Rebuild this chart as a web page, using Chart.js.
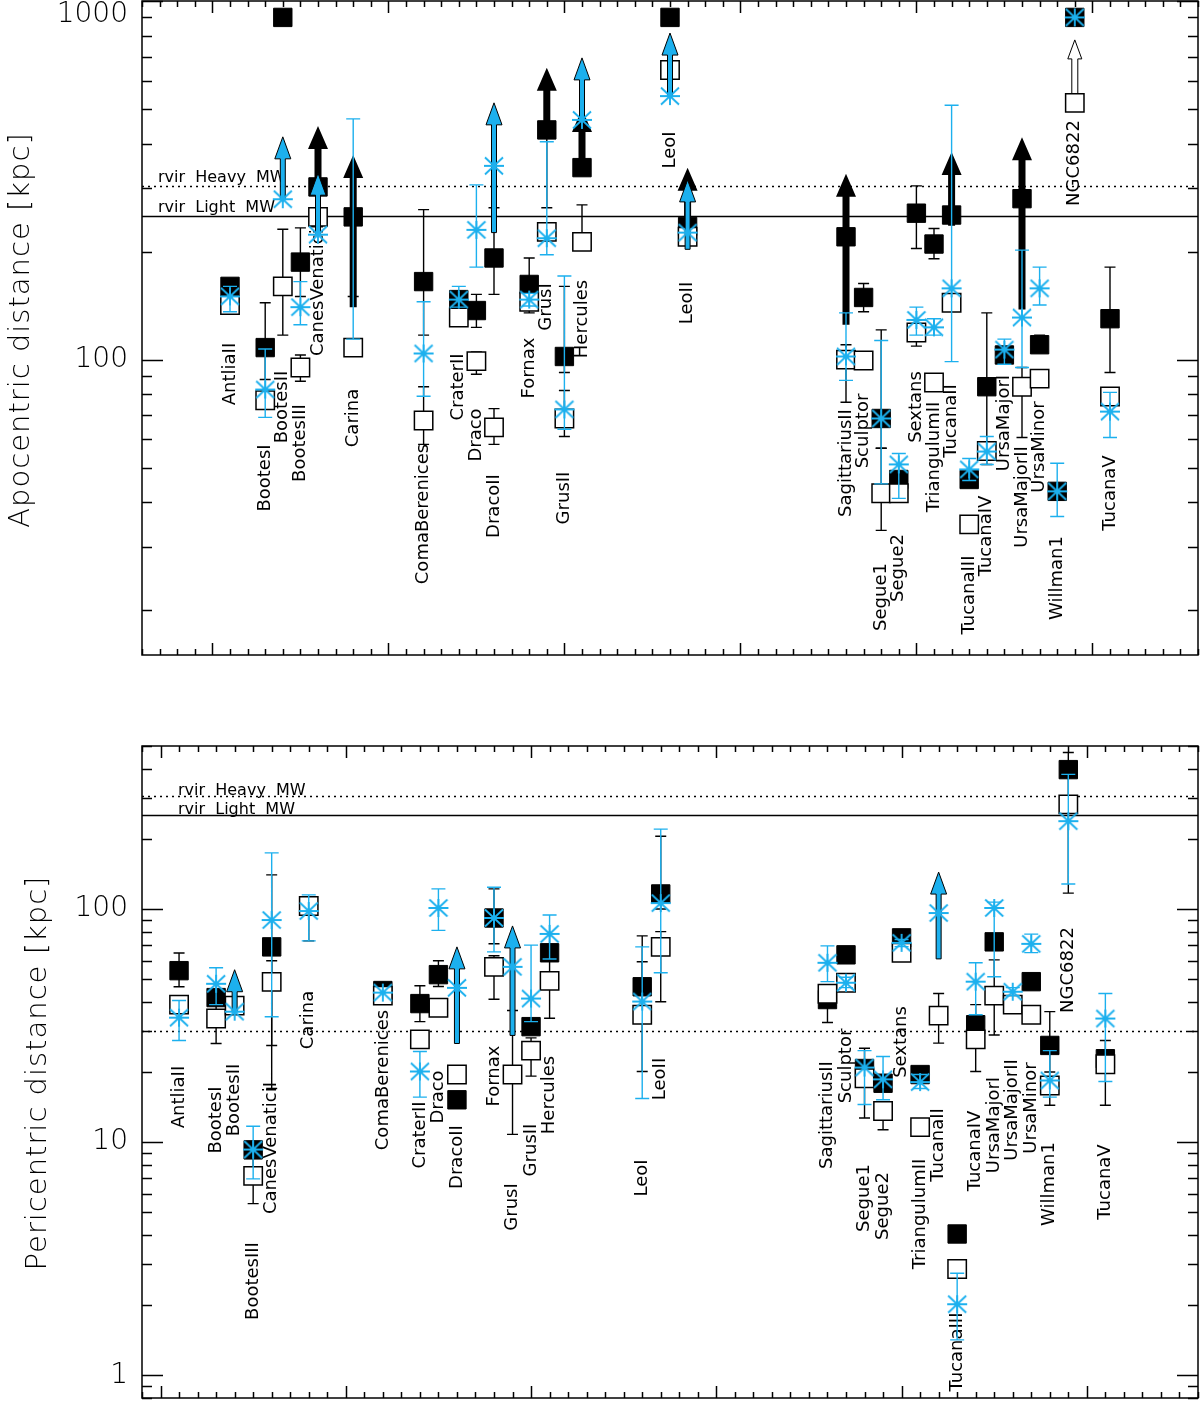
<!DOCTYPE html>
<html>
<head>
<meta charset="utf-8">
<script src="https://cdn.jsdelivr.net/npm/chart.js@4.4.1/dist/chart.umd.min.js"></script>
<style>
  html, body { margin: 0; padding: 0; background: #fff; }
  #wrap { position: relative; width: 1200px; height: 1402px; }
  canvas { position: absolute; left: 0; }
  #apo { top: 0; width: 1200px; height: 700px; }
  #peri { top: 700px; width: 1200px; height: 702px; }
</style>
</head>
<body>
<div id="wrap">
  <canvas id="apo" width="1200" height="700"></canvas>
  <canvas id="peri" width="1200" height="702"></canvas>
</div>
<script>
const _ = null;
const CYAN = '#1cb0ee';
const FONT = "'DejaVu Sans', sans-serif";

const galaxies = ['AntliaII','BootesI','BootesII','BootesIII','CanesVenaticiI','Carina','ComaBerenices',
  'CraterII','Draco','DracoII','Fornax','GrusI','GrusII','Hercules','LeoI','LeoII','SagittariusII',
  'Sculptor','Segue1','Segue2','Sextans','TriangulumII','TucanaII','TucanaIII','TucanaIV','UrsaMajorI',
  'UrsaMajorII','UrsaMinor','Willman1','NGC6822','TucanaV'];
const slot = [1,3,4,5,6,8,12,14,15,16,18,19,20,21,26,27,36,37,38,39,40,41,42,43,44,45,46,47,48,49,51];

// apocentric distance [kpc]
const apoFilled   = [160,108,900,187,303,250,165,147,137,192,162,437,102,343,900,235,220,149,68.5,46.3,256,210,253,46.3,84,103,281,110,42.9,900,130];
const apoFilledLo = [152,88,_,150,_,150,117,_,123,152,135,265,92,_,_,_,_,136,56.6,_,204,191,_,_,51,_,_,105,_,_,92];
const apoFilledHi = [168,144,_,233,_,_,262,_,152,265,192,_,160,_,_,_,_,163,121,_,305,232,_,_,135,_,_,117,_,_,181];
const apoFilledUp = [['CanesVenaticiI',303,448],['Carina',140,372],['GrusI',437,651],['Hercules',343,500],
  ['LeoII',235,343],['SagittariusII',125,330],['TucanaII',236,379],['UrsaMajorII',138,417]];

const apoOpen   = [142,77,160,95,250,108,67.6,131,99,64.7,145,227,68.5,213,642,220,100,99.4,42.4,42.4,119,86.3,144,34.7,55.6,_,84,88.5,_,520,78.9];
const apoOpenLo = [_,_,117,87,_,_,58,_,91,58,_,_,61,202,_,_,76,97,33.4,41,109,84,_,33.5,_,_,60.6,84,_,_,_];
const apoOpenHi = [_,_,231,103,_,_,84,_,105,73,_,_,82,270,_,_,110,102,56.6,43.5,129,89,_,36,_,_,95,93,_,_,_];
const apoOpenUp = [['NGC6822',520,779]];

const apoStar   = [150,82.5,280,140,223,_,104,147,230,347,147,218,72.6,466,543,226,102,_,68.5,51,129,123,158,49.4,55.4,106.6,131,158,42.9,900,71.6];
const apoStarLo = [136,69,_,125,_,114,79,140,181,_,141,196,63.9,_,_,_,87.5,_,45,41,117,117,98.7,46,51,97,95,142,36.5,_,60.6];
const apoStarHi = [160,107,_,165,_,469,145,160,307,_,153,405,171,_,_,_,135,_,113,54.7,140,130,512,53,61,114,202,181,51.4,_,81];
const apoStarUp = [['BootesII',280,418],['CanesVenaticiI',223,331],['DracoII',226,520],['Hercules',466,694],
  ['LeoI',543,814],['LeoII',203,317]];

// pericentric distance [kpc]
const periFilled   = [54.4,41.7,_,9.27,68.8,_,44.7,39.3,52.3,15.2,91.5,_,31.3,64.9,46.4,116,40.9,63.6,20.7,17.9,75.2,19.5,_,4.04,31.9,72.3,_,48.8,26.0,396,22.8];
const periFilledLo = [46.4,_,_,_,26,_,_,32.9,46.5,_,71,_,_,_,38,100,32.6,_,12.7,_,_,_,_,_,20.1,_,_,_,20,117,14.4];
const periFilledHi = [64.8,_,_,_,140,_,_,46.9,60,_,122,_,_,_,76.7,205,47,_,25.3,_,_,_,_,_,38.9,_,_,_,36.3,469,27.3];
const periFilledUp = [];

const periOpen   = [38.9,33.9,38.5,7.17,48.7,103,42.5,27.6,37.7,19.5,56.5,19.5,24.7,49.2,35.2,68.8,43.3,48.3,18.8,13.6,64.9,11.6,34.9,2.86,27.6,42.5,38.9,35.2,17.5,281,21.6];
const periOpenLo = [_,26.5,_,5.45,17,73,_,_,35.5,18.5,41,10.8,19.2,34,20.1,40,_,_,_,11.3,_,11,26.6,2.8,_,28.8,36,33.5,14.4,_,_];
const periOpenHi = [_,41.7,_,9,60,103,_,_,40.5,20.5,63,36.7,28,60.5,59.4,80,_,_,_,14.7,_,12.2,43.4,2.95,_,60.5,42,37,18,_,_];
const periOpenUp = [];

const periStar   = [34.2,47.8,36.3,9.3,89.7,98,43.8,20.1,101,45.9,91.5,56.5,41.3,78.2,40.1,106,58.8,48.3,20.9,18.6,71.6,18.1,96.1,2.02,48.8,101,44.2,70.9,18.4,238,33.9];
const periStarLo = [27.3,38.9,_,6.96,34.5,73,_,15.6,81,_,65.5,_,32.9,61,15.4,53.3,48.8,46,14.5,15.2,69,17,_,1.42,35.2,51.2,42.5,65,15.6,128,18.2];
const periStarHi = [40.5,56,_,11.7,174,115,_,24.5,122,_,124,_,70,94.3,68.8,220,69.5,51,24.7,23.3,74,19.5,_,2.74,58.8,107,46,78,24.7,378,43.4];
const periStarUp = [['BootesII',36.3,54.9],['DracoII',26.5,68.8],['GrusI',28.7,84.6],['TucanaII',61.1,144]];

// reference radii [kpc]
const rvirLight = 252;
const rvirHeavy = 305;
const periRef = 30;

const apoTickLabels = [100, 1000];
const periTickLabels = [1, 10, 100];

// label placement (page y of the centre of each rotated name)
const apoLabelY  = [374,478,407,443,290,418,514,387,435,506,368,307,498,319,150,303,463,431,597,568,407,457,421,595,536,423,497,447,578,163,493];
const periLabelY = [1097,1120,1100,1281,1148,1020,1080,1135,1097,1157,1076,1207,1150,1095,1178,1079,1115,1066,1198,1206,1042,1214,1145,1352,1151,1125,1110,1108,1184,970,1182];

function asterisk(color) {
  const c = document.createElement('canvas');
  c.width = 24; c.height = 24;
  const g = c.getContext('2d');
  g.strokeStyle = color; g.lineWidth = 1.9;
  g.beginPath();
  g.moveTo(2, 12); g.lineTo(22, 12);
  g.moveTo(12, 3); g.lineTo(12, 21);
  g.moveTo(3, 3.5); g.lineTo(21, 20.5);
  g.moveTo(21, 3.5); g.lineTo(3, 20.5);
  g.stroke();
  return c;
}

function drawArrow(ctx, x, y0, y1, kind) {
  const s = kind === 'black' ? { w: 7, hw: 10, hl: 23, fill: '#000', stroke: null }
    : kind === 'cyan' ? { w: 5, hw: 8, hl: 22, fill: CYAN, stroke: '#000' }
    : { w: 6, hw: 7, hl: 19, fill: '#fff', stroke: '#000' };
  const yh = y1 + s.hl;
  ctx.beginPath();
  ctx.moveTo(x - s.w / 2, y0);
  ctx.lineTo(x - s.w / 2, yh);
  ctx.lineTo(x - s.hw, yh);
  ctx.lineTo(x, y1);
  ctx.lineTo(x + s.hw, yh);
  ctx.lineTo(x + s.w / 2, yh);
  ctx.lineTo(x + s.w / 2, y0);
  ctx.closePath();
  ctx.fillStyle = s.fill;
  ctx.fill();
  if (s.stroke) {
    ctx.strokeStyle = s.stroke;
    ctx.lineWidth = 1;
    ctx.stroke();
  }
}

const pts = vals => vals.map((v, i) => ({ x: slot[i], y: v })).filter(p => p.y !== null);

function makeDecor(p) {
  return {
    id: 'decor' + p.id,
    beforeDatasetsDraw(chart) {
      const { ctx, chartArea: a, scales: { x, y } } = chart;
      ctx.save();
      ctx.strokeStyle = '#000';
      ctx.lineWidth = 1.3;
      p.lines.forEach(([v, dashed]) => {
        const py = Math.round(y.getPixelForValue(v)) + 0.5;
        ctx.setLineDash(dashed ? [2, 4] : []);
        ctx.beginPath(); ctx.moveTo(a.left, py); ctx.lineTo(a.right, py); ctx.stroke();
      });
      ctx.setLineDash([]);
      ctx.fillStyle = '#000';
      ctx.font = '16px ' + FONT;
      ctx.textAlign = 'left';
      ctx.textBaseline = 'alphabetic';
      p.lineText.forEach(([t, v]) => ctx.fillText(t, p.textX, y.getPixelForValue(v) - p.textLift));
      ctx.font = '18px ' + FONT;
      ctx.textAlign = 'center';
      ctx.textBaseline = 'middle';
      galaxies.forEach((g, i) => {
        ctx.save();
        ctx.translate(x.getPixelForValue(slot[i]), p.labelY[i] - p.top);
        ctx.rotate(-Math.PI / 2);
        ctx.fillText(g, 0, 0);
        ctx.restore();
      });
      ctx.restore();
    },
    beforeDatasetDraw(chart, args) {
      const ds = chart.data.datasets[args.index];
      const { ctx, scales: { x, y } } = chart;
      ctx.save();
      ctx.strokeStyle = ds.errColor;
      ctx.lineWidth = 1.4;
      ctx.beginPath();
      galaxies.forEach((g, i) => {
        const lo = ds.lo[i], hi = ds.hi[i], c = ds.val[i];
        if (lo === null && hi === null) return;
        const px = x.getPixelForValue(slot[i]);
        const y0 = y.getPixelForValue(lo !== null ? lo : c);
        const y1 = y.getPixelForValue(hi !== null ? hi : c);
        ctx.moveTo(px, y0); ctx.lineTo(px, y1);
        if (lo !== null) { ctx.moveTo(px - ds.cap / 2, y0); ctx.lineTo(px + ds.cap / 2, y0); }
        if (hi !== null) { ctx.moveTo(px - ds.cap / 2, y1); ctx.lineTo(px + ds.cap / 2, y1); }
      });
      ctx.stroke();
      ds.up.forEach(([g, from, to]) => {
        const i = galaxies.indexOf(g);
        drawArrow(ctx, x.getPixelForValue(slot[i]), y.getPixelForValue(from), y.getPixelForValue(to), ds.arrowKind);
      });
      ctx.restore();
    },
    afterDraw(chart) {
      const { ctx, chartArea: a, scales: { x, y } } = chart;
      ctx.save();
      ctx.strokeStyle = '#000';
      ctx.lineWidth = 1.5;
      ctx.strokeRect(a.left, a.top, a.right - a.left, a.bottom - a.top);
      ctx.beginPath();
      for (let v = Math.ceil(x.min); v <= x.max; v++) {
        const px = Math.round(x.getPixelForValue(v)) + 0.5;
        const L = v % 10 === 0 ? 12 : 6;
        ctx.moveTo(px, a.top); ctx.lineTo(px, a.top + L);
        ctx.moveTo(px, a.bottom); ctx.lineTo(px, a.bottom - L);
      }
      for (let e = Math.floor(Math.log10(y.min)); e <= Math.ceil(Math.log10(y.max)); e++) {
        for (let k = 1; k <= 9; k++) {
          const v = k * Math.pow(10, e);
          if (v < y.min * 0.999 || v > y.max * 1.001) continue;
          const py = Math.round(y.getPixelForValue(v)) + 0.5;
          const L = k === 1 ? 21 : 10;
          ctx.moveTo(a.left, py); ctx.lineTo(a.left + L, py);
          ctx.moveTo(a.right, py); ctx.lineTo(a.right - L, py);
        }
      }
      ctx.stroke();
      ctx.fillStyle = '#000';
      ctx.font = '200 28px ' + FONT;
      ctx.textAlign = 'right';
      ctx.textBaseline = 'middle';
      p.tickLabels.forEach(v => {
        const py = Math.max(y.getPixelForValue(v), 15);
        ctx.fillText(String(v), 128, py);
      });
      ctx.save();
      ctx.font = '200 29px ' + FONT;
      ctx.letterSpacing = '1px';
      ctx.textAlign = 'center';
      ctx.textBaseline = 'middle';
      ctx.translate(p.titleX, p.titleY - p.top);
      ctx.rotate(-Math.PI / 2);
      ctx.fillText(p.title, 0, 0);
      ctx.restore();
      ctx.restore();
    }
  };
}

function panel(p) {
  const star = asterisk(CYAN);
  const datasets = [
    { label: 'model A', data: pts(p.filled), val: p.filled, lo: p.filledLo, hi: p.filledHi, up: p.filledUp,
      order: 2, pointStyle: 'rect', pointRadius: 13, backgroundColor: '#000', borderColor: '#000', borderWidth: 1,
      errColor: '#000', cap: 11, arrowKind: 'black' },
    { label: 'model B', data: pts(p.open), val: p.open, lo: p.openLo, hi: p.openHi, up: p.openUp,
      order: 1, pointStyle: 'rect', pointRadius: 13, backgroundColor: '#fff', borderColor: '#000', borderWidth: 1.5,
      errColor: '#000', cap: 11, arrowKind: 'open' },
    { label: 'model C', data: pts(p.star), val: p.star, lo: p.starLo, hi: p.starHi, up: p.starUp,
      order: 0, pointStyle: star, pointRadius: 10, backgroundColor: CYAN, borderColor: CYAN,
      errColor: CYAN, cap: 14, arrowKind: 'cyan' }
  ];
  new Chart(document.getElementById(p.id), {
    type: 'scatter',
    data: { datasets },
    options: {
      responsive: false,
      devicePixelRatio: 1,
      animation: false,
      events: [],
      clip: false,
      layout: { autoPadding: false, padding: p.padding },
      plugins: { legend: { display: false }, tooltip: { enabled: false } },
      scales: {
        x: { type: 'linear', display: false, min: p.xMin, max: p.xMax },
        y: { type: 'logarithmic', display: false, min: p.yMin, max: p.yMax }
      }
    },
    plugins: [makeDecor(p)]
  });
}

panel({
  id: 'apo', top: 0,
  padding: { left: 142, right: 2, top: 1, bottom: 45 },
  xMin: -4, xMax: 56, yMin: 15, yMax: 1000,
  filled: apoFilled, filledLo: apoFilledLo, filledHi: apoFilledHi, filledUp: apoFilledUp,
  open: apoOpen, openLo: apoOpenLo, openHi: apoOpenHi, openUp: apoOpenUp,
  star: apoStar, starLo: apoStarLo, starHi: apoStarHi, starUp: apoStarUp,
  lines: [[rvirHeavy, true], [rvirLight, false]],
  lineText: [['rvir  Heavy  MW', rvirHeavy], ['rvir  Light  MW', rvirLight]],
  textX: 158, textLift: 4,
  labelY: apoLabelY, tickLabels: apoTickLabels,
  title: 'Apocentric distance [kpc]', titleX: 21, titleY: 330
});

panel({
  id: 'peri', top: 700,
  padding: { left: 142, right: 2, top: 46, bottom: 4 },
  xMin: -1, xMax: 56, yMin: 0.8, yMax: 500,
  filled: periFilled, filledLo: periFilledLo, filledHi: periFilledHi, filledUp: periFilledUp,
  open: periOpen, openLo: periOpenLo, openHi: periOpenHi, openUp: periOpenUp,
  star: periStar, starLo: periStarLo, starHi: periStarHi, starUp: periStarUp,
  lines: [[rvirHeavy, true], [rvirLight, false], [periRef, true]],
  lineText: [['rvir  Heavy  MW', rvirHeavy], ['rvir  Light  MW', rvirLight]],
  textX: 178, textLift: 1,
  labelY: periLabelY, tickLabels: periTickLabels,
  title: 'Pericentric distance [kpc]', titleX: 38, titleY: 1073
});
</script>
</body>
</html>
